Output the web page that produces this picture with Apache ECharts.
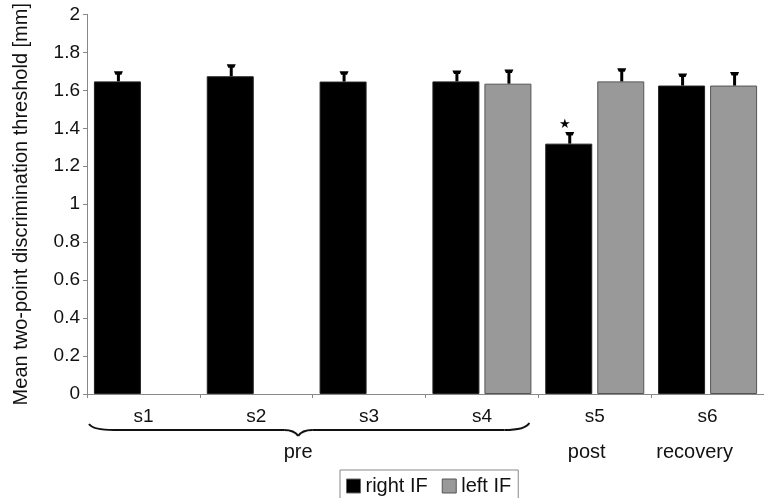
<!DOCTYPE html>
<html>
<head>
<meta charset="utf-8">
<script src="https://cdn.jsdelivr.net/npm/echarts@6/dist/echarts.min.js"></script>
<style>
html,body{margin:0;padding:0;background:#fff;}
#c{width:764px;height:498px;}
</style>
</head>
<body>
<div id="c"></div>
<script>
var categories = ['s1', 's2', 's3', 's4', 's5', 's6'];
var rightIF = [1.647, 1.674, 1.646, 1.647, 1.319, 1.625];
var rightErr = [0.053, 0.063, 0.054, 0.058, 0.061, 0.063];
var leftIF = [null, null, null, 1.635, 1.647, 1.625];
var leftErr = [null, null, null, 0.075, 0.069, 0.072];
var significant = [false, false, false, false, true, false];
var yTicks = [0, 0.2, 0.4, 0.6, 0.8, 1, 1.2, 1.4, 1.6, 1.8, 2];
var phaseLabels = [
  {text: 'pre', from: 0, to: 3, brace: true},
  {text: 'post', from: 4, to: 4, brace: false},
  {text: 'recovery', from: 5, to: 5, brace: false}
];

var FONT = '"Liberation Sans", Arial, sans-serif';
var BAR_W = 47, BAR_GAP = 5;

function errSeries(vals, errs, side, sig) {
  return {
    type: 'custom',
    silent: true,
    z: 5,
    data: vals.map(function (v, i) { return v == null ? [i, null, null] : [i, v, v + errs[i]]; }),
    encode: {x: 0, y: [1, 2]},
    renderItem: function (params, api) {
      if (api.value(1) == null || isNaN(api.value(1))) return;
      var i = api.value(0);
      var base = api.coord([i, api.value(1)]);
      var top = api.coord([i, api.value(2)]);
      var off = side * (BAR_W + BAR_GAP) / 2 + 1;
      var x = base[0] + off;
      var children = [
        {type: 'line', shape: {x1: x, y1: base[1], x2: x, y2: top[1] + 2}, style: {stroke: '#000', lineWidth: 3}},
        {type: 'polygon', shape: {points: [[x - 4.5, top[1]], [x + 4.5, top[1]], [x + 3, top[1] + 3.5], [x - 3, top[1] + 3.5]]}, style: {fill: '#000'}}
      ];
      if (sig && sig[i]) {
        children.push({type: 'text', style: {text: '★', x: x - 5, y: top[1] - 8, fill: '#000', font: '13px ' + FONT, align: 'center', verticalAlign: 'middle'}});
      }
      return {type: 'group', children: children};
    }
  };
}

var chart = echarts.init(document.getElementById('c'));
var option = {
  animation: false,
  backgroundColor: '#fff',
  textStyle: {fontFamily: FONT},
  grid: {left: 87, top: 14, width: 681, height: 380, containLabel: false},
  legend: {
    left: 340, top: 470,
    orient: 'horizontal',
    padding: [6, 7, 6, 6],
    borderColor: '#888', borderWidth: 1,
    itemWidth: 14, itemHeight: 14, itemGap: 14,
    icon: 'rect',
    textStyle: {fontFamily: FONT, fontSize: 20, color: '#111'},
    data: [
      {name: 'right IF', itemStyle: {color: '#000', borderColor: '#666', borderWidth: 1}},
      {name: 'left IF', itemStyle: {color: '#999', borderColor: '#555', borderWidth: 1}}
    ]
  },
  xAxis: {
    type: 'category',
    data: categories,
    axisLine: {lineStyle: {color: '#888', width: 1}},
    axisTick: {show: true, length: 4, lineStyle: {color: '#888'}},
    axisLabel: {fontFamily: FONT, fontSize: 19, color: '#111', margin: 13}
  },
  yAxis: {
    type: 'value',
    min: 0, max: 2, interval: 0.2,
    name: 'Mean two-point discrimination threshold [mm]',
    nameLocation: 'middle',
    nameRotate: 90,
    nameGap: 56,
    nameTextStyle: {fontFamily: FONT, fontSize: 20, color: '#111'},
    splitLine: {show: false},
    axisLine: {show: true, lineStyle: {color: '#888', width: 1}},
    axisTick: {show: true, length: 4, inside: false, lineStyle: {color: '#888'}},
    axisLabel: {
      fontFamily: FONT, fontSize: 19, color: '#111', margin: 7,
      formatter: function (v) {
        for (var k = 0; k < yTicks.length; k++) if (Math.abs(yTicks[k] - v) < 1e-9) return String(yTicks[k]);
        return '';
      }
    }
  },
  series: [
    {name: 'right IF', type: 'bar', data: rightIF, barWidth: BAR_W, barGap: (BAR_GAP / BAR_W * 100) + '%',
      itemStyle: {color: '#000', borderColor: '#222', borderWidth: 1}},
    {name: 'left IF', type: 'bar', data: leftIF, barWidth: BAR_W,
      itemStyle: {color: '#999', borderColor: '#555', borderWidth: 1}},
    errSeries(rightIF, rightErr, -1, significant),
    errSeries(leftIF, leftErr, 1, null)
  ]
};
chart.setOption(option);

// Phase annotations below the axis, positioned from the category axis
var c0 = chart.convertToPixel({xAxisIndex: 0}, categories[0]);
var c1 = chart.convertToPixel({xAxisIndex: 0}, categories[1]);
var cw = c1 - c0;
var g = [];
var braceStyle = {stroke: '#111', lineWidth: 2, fill: null};
phaseLabels.forEach(function (p) {
  var a = chart.convertToPixel({xAxisIndex: 0}, categories[p.from]);
  var b = chart.convertToPixel({xAxisIndex: 0}, categories[p.to]);
  if (p.brace) {
    var L = a - cw / 2 + 2, R = b + cw / 2 - 9;
    var M = (L + R) / 2 - 11;
    var y0 = 424, y1 = 430, y2 = 436;
    g.push({type: 'bezierCurve', shape: {x1: L, y1: y0, cpx1: L + 4, cpy1: y1, x2: L + 25, y2: y1}, style: braceStyle});
    g.push({type: 'line', shape: {x1: L + 25, y1: y1, x2: M - 14, y2: y1}, style: braceStyle});
    g.push({type: 'bezierCurve', shape: {x1: M - 14, y1: y1, cpx1: M - 4, cpy1: y1, x2: M, y2: y2}, style: braceStyle});
    g.push({type: 'bezierCurve', shape: {x1: M, y1: y2, cpx1: M + 4, cpy1: y1, x2: M + 14, y2: y1}, style: braceStyle});
    g.push({type: 'line', shape: {x1: M + 14, y1: y1, x2: R - 25, y2: y1}, style: braceStyle});
    g.push({type: 'bezierCurve', shape: {x1: R - 25, y1: y1, cpx1: R - 4, cpy1: y1, x2: R, y2: y0 - 1}, style: braceStyle});
    g.push({type: 'text', x: M, y: 452, style: {text: p.text, font: '20px ' + FONT, fill: '#111', align: 'center', verticalAlign: 'middle'}});
  } else {
    var xc = (a + b) / 2 - (p.text.length > 4 ? 13 : 8);
    g.push({type: 'text', x: xc, y: 452, style: {text: p.text, font: '20px ' + FONT, fill: '#111', align: 'center', verticalAlign: 'middle'}});
  }
});
chart.setOption({graphic: g});
</script>
</body>
</html>
